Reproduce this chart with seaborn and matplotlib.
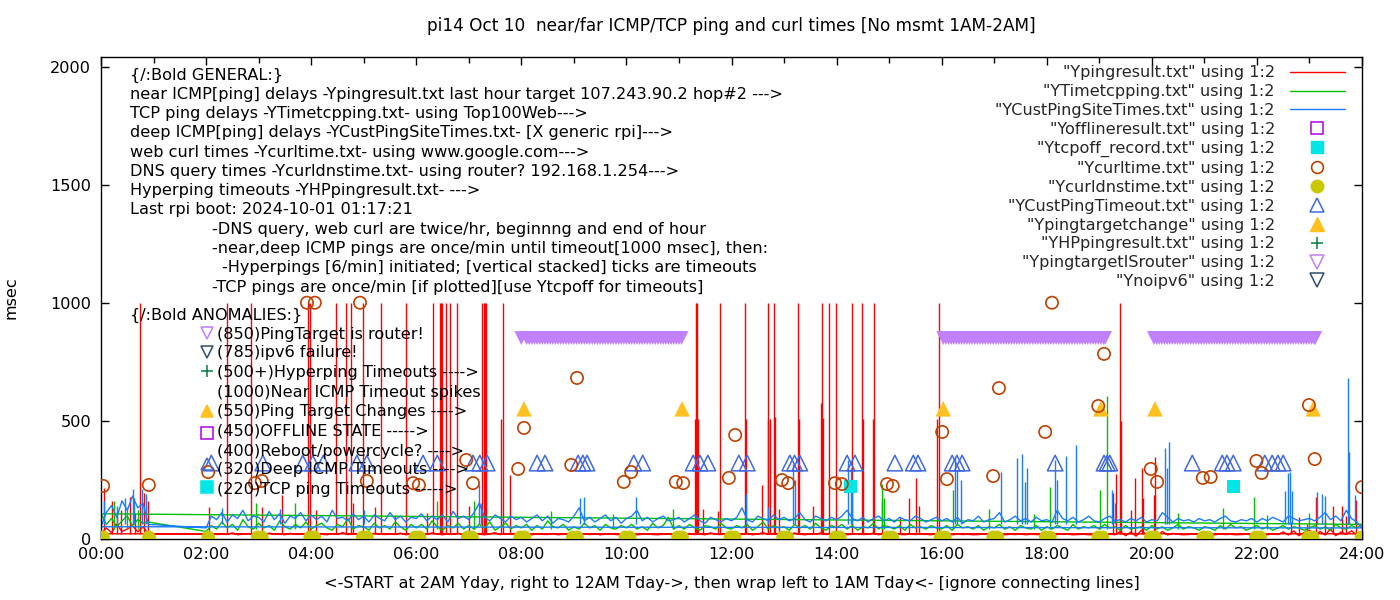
import numpy as np
import pandas as pd
import matplotlib.pyplot as plt
from matplotlib.lines import Line2D
from matplotlib.ticker import MultipleLocator, FuncFormatter
import seaborn as sns

sns.set_theme(style='ticks')
plt.rcParams['font.family'] = ['DejaVu Sans']
FS = 11.6

# ---------------- data (x = hours of day, y = msec) ----------------
# line series sampled every 6 min: 00:00-00:54 Tday piece, then 02:00 Yday -> 24:00
t_late = np.round(np.arange(0.0, 0.95, 0.1), 1)
t_main = np.round(np.arange(2.0, 24.05, 0.1), 1)

red_late = [20, 45, 25, 60, 30, 40, 55, 28, 50, 20]
red_main = [18, 22, 17, 20, 18, 24, 16, 19, 21, 18,
            20, 17, 23, 18, 19, 16, 22, 18, 20, 17,
            19, 23, 18, 16, 21, 18, 25, 17, 19, 20,
            18, 16, 22, 19, 17, 20, 18, 23, 16, 19,
            21, 18, 17, 24, 19, 16, 20, 18, 22, 17,
            19, 22, 18, 16, 20, 25, 17, 19, 18, 21,
            17, 19, 16, 20, 18, 17, 21, 16, 18, 19,
            18, 16, 19, 17, 20, 16, 18, 19, 17, 16,
            19, 17, 16, 18, 20, 17, 16, 19, 18, 17,
            16, 22, 18, 17, 19, 16, 24, 18, 17, 19,
            18, 20, 17, 22, 16, 19, 25, 18, 21, 17,
            19, 17, 23, 18, 16, 20, 18, 24, 17, 19,
            18, 22, 16, 19, 21, 17, 18, 23, 16, 20,
            17, 19, 18, 16, 20, 17, 19, 18, 16, 21,
            18, 17, 16, 19, 17, 18, 16, 17, 19, 18,
            17, 18, 16, 18, 17, 19, 16, 18, 17, 16,
            18, 16, 17, 19, 18, 16, 17, 18, 16, 17,
            18, 17, 19, 16, 30, 12, 28, 10, 35, 14,
            25, 12, 30, 15, 22, 18, 16, 17, 19, 18,
            17, 18, 16, 19, 17, 18, 16, 17, 18, 16,
            18, 17, 16, 19, 17, 28, 15, 32, 12, 26,
            35, 10, 30, 15, 40, 12, 28, 18, 33, 14,
            20]

green_late = [105, 60, 85, 50, 75, 95, 55, 80, 65, 70]
green_main = [30, 55, 40, 70, 45, 60, 35, 80, 50, 40,
              65, 45, 55, 35, 75, 50, 40, 60, 45, 70,
              40, 55, 65, 45, 35, 60, 50, 85, 40, 55,
              50, 35, 65, 45, 55, 40, 70, 50, 35, 60,
              45, 60, 40, 75, 50, 35, 55, 45, 65, 40,
              55, 40, 60, 45, 70, 35, 50, 65, 40, 55,
              45, 60, 35, 55, 40, 75, 50, 45, 60, 35,
              50, 40, 65, 45, 55, 35, 60, 45, 40, 55,
              45, 60, 40, 50, 35, 65, 45, 55, 90, 40,
              55, 40, 60, 45, 35, 55, 50, 40, 65, 45,
              40, 55, 45, 60, 35, 50, 70, 40, 55, 45,
              50, 35, 60, 45, 55, 40, 65, 45, 35, 55,
              45, 60, 40, 55, 35, 50, 45, 65, 40, 55,
              50, 40, 55, 35, 60, 45, 50, 40, 55, 45,
              40, 55, 35, 60, 45, 50, 40, 55, 35, 50,
              45, 60, 40, 50, 35, 55, 45, 40, 55, 35,
              50, 40, 55, 45, 35, 60, 40, 50, 45, 55,
              40, 60, 45, 50, 35, 55, 40, 45, 50, 35,
              55, 40, 50, 35, 45, 60, 40, 50, 45, 35,
              50, 45, 35, 55, 40, 60, 45, 50, 35, 45,
              55, 40, 50, 35, 45, 55, 40, 50, 45, 35,
              45, 55, 40, 50, 35, 60, 45, 40, 55, 45,
              60]

blue_late = [50, 110, 140, 90, 160, 120, 180, 130, 150, 60]
blue_main = [45, 95, 80, 110, 70, 100, 85, 120, 75, 95,
             90, 70, 115, 80, 105, 65, 95, 85, 110, 75,
             100, 80, 95, 70, 120, 85, 90, 75, 105, 80,
             95, 70, 100, 85, 75, 110, 80, 95, 70, 90,
             85, 105, 75, 95, 80, 100, 70, 115, 85, 95,
             80, 110, 150, 90, 75, 100, 85, 70, 95, 80,
             90, 70, 85, 100, 75, 95, 65, 85, 80, 70,
             95, 130, 75, 90, 70, 85, 100, 75, 90, 65,
             85, 95, 120, 75, 90, 70, 85, 95, 75, 80,
             90, 70, 85, 100, 75, 65, 90, 80, 70, 85,
             75, 90, 130, 80, 70, 95, 85, 75, 100, 80,
             90, 75, 85, 110, 80, 70, 95, 85, 75, 90,
             80, 95, 120, 85, 75, 90, 70, 85, 95, 75,
             85, 70, 90, 80, 75, 95, 85, 70, 80, 90,
             75, 85, 70, 90, 65, 80, 75, 95, 70, 80,
             85, 110, 70, 80, 95, 75, 85, 70, 90, 75,
             80, 70, 120, 85, 75, 90, 70, 80, 95, 75,
             70, 85, 95, 75, 80, 70, 85, 75, 90, 70,
             80, 75, 110, 90, 70, 85, 75, 80, 70, 85,
             75, 80, 70, 85, 95, 75, 70, 80, 75, 85,
             70, 85, 75, 90, 80, 70, 95, 85, 75, 80,
             85, 75, 90, 110, 80, 95, 75, 120, 85, 70,
             45]

# one-minute spikes (time, peak msec)
red_spike_t = [0.74, 2.40, 2.85, 3.94, 3.97, 4.47, 4.66, 4.75, 4.98, 5.33, 5.80,
               6.31, 6.45, 6.47, 6.49, 6.56, 6.64, 6.77, 7.26, 7.28, 7.30, 7.32, 7.65,
               11.32, 11.35, 11.79, 12.25, 12.70, 12.80, 13.26, 13.73, 13.85, 13.98,
               14.30, 14.49, 14.72, 15.94, 19.40,
               0.05, 0.20, 0.30, 0.38, 0.55, 0.65, 0.82, 0.90,
               2.05, 3.07, 3.45, 4.10, 4.79, 5.22, 5.60, 6.20, 7.00, 7.62, 7.78,
               11.30, 11.37, 11.45, 11.75, 12.27, 12.59, 12.69, 12.74, 12.82, 12.91,
               13.28, 13.56, 13.71, 13.75, 14.51, 14.70, 14.87, 15.20, 15.37, 15.52,
               15.56, 15.92, 19.27, 19.31, 19.42, 19.60, 19.68, 19.82, 19.84, 20.04,
               20.06, 22.65, 22.80, 22.95, 23.12, 23.30, 23.45, 23.62, 23.70, 23.88]
red_spike_v = [1000] * 38 + [215, 160, 90, 120, 175, 110, 195, 160,
               135, 135, 185, 120, 150, 135, 100, 110, 140, 505, 270,
               505, 505, 127, 115, 505, 229, 505, 505, 514, 127,
               505, 140, 573, 510, 505, 505, 160, 90, 170, 255,
               140, 505, 195, 275, 500, 120, 255, 297, 170, 183,
               345, 70, 90, 60, 175, 80, 140, 140, 95, 165]

green_spike_t = [0.25, 0.50, 0.70, 2.95, 3.70, 6.40, 7.10, 8.56, 9.75, 10.88,
                 14.87, 14.90, 16.22, 16.90, 17.75, 18.07, 19.02, 19.15, 20.50,
                 21.36, 21.95, 22.20, 23.00]
green_spike_v = [160, 130, 120, 150, 150, 160, 160, 115, 106, 127,
                 233, 170, 204, 127, 106, 217, 204, 603, 110,
                 128, 175, 100, 110]

blue_spike_t = [0.05, 0.30, 0.45, 0.60, 0.62, 0.78, 0.85, 2.30, 3.40, 5.00,
                7.20, 7.23, 9.11, 9.19, 10.19, 12.27, 12.69, 13.18, 13.20,
                14.21, 14.27, 14.30, 16.26, 16.30, 16.36, 17.12, 17.44, 17.53,
                17.58, 17.63, 18.16, 18.20, 18.37, 18.56, 19.25, 19.30, 20.25,
                20.29, 20.33, 22.53, 22.60, 22.63, 22.67, 23.14, 23.24, 23.30,
                23.74, 23.76, 23.87]
blue_spike_v = [160, 140, 170, 212, 170, 208, 190, 130, 125, 120,
                225, 150, 170, 178, 174, 190, 132, 318, 250,
                331, 300, 200, 344, 290, 250, 282, 340, 357,
                240, 297, 331, 250, 348, 395, 204, 150, 382,
                300, 408, 200, 280, 282, 200, 196, 190, 180,
                680, 365, 183]

curl_t = [0.04, 0.91, 2.04, 2.93, 3.06, 3.92, 4.07, 4.93, 5.06, 5.94, 6.05, 6.95,
          7.08, 7.94, 8.05, 8.95, 9.06, 9.95, 10.09, 10.94, 11.08, 11.95, 12.07,
          12.96, 13.08, 13.97, 14.10, 14.96, 15.07, 16.01, 16.10, 16.98, 17.09,
          17.97, 18.10, 18.98, 19.09, 19.98, 20.10, 20.97, 21.12, 21.99, 22.09,
          22.99, 23.10, 24.00]
curl_v = [223, 227, 282, 235, 244, 1000, 1000, 1000, 244, 235, 227, 333,
          235, 295, 469, 312, 681, 240, 282, 240, 235, 257, 439,
          248, 235, 235, 231, 231, 223, 452, 252, 265, 638,
          452, 1000, 562, 783, 295, 240, 257, 261, 329, 278,
          566, 337, 218]

dns_t = [0.04, 0.91, 2.04, 2.98, 3.06, 3.98, 4.06, 4.98, 5.06, 5.98, 6.06,
         6.98, 7.06, 7.98, 8.06, 8.98, 9.06, 9.98, 10.06, 10.98, 11.06,
         11.98, 12.06, 12.98, 13.06, 13.98, 14.06, 14.98, 15.06, 15.98, 16.06,
         16.98, 17.06, 17.98, 18.06, 18.98, 19.06, 19.98, 20.06, 20.98, 21.06,
         21.98, 22.06, 22.98, 23.06, 23.99]
dns_v = [5] * 46

timeout_t = [2.10, 3.08, 3.84, 4.03, 4.23, 4.87, 5.06, 6.13, 6.40, 7.08, 7.21,
             7.35, 8.30, 8.45, 9.08, 9.17, 9.25, 10.14, 10.31, 11.27, 11.40,
             11.55, 12.14, 12.30, 13.11, 13.20, 13.30, 14.20, 14.35, 15.11,
             15.46, 15.55, 16.20, 16.29, 16.39, 18.16, 19.09, 19.15, 19.20,
             20.77, 21.34, 21.43, 21.55, 22.15, 22.29, 22.40, 22.50]
timeout_v = [320] * 47

target_t = [8.05, 11.06, 16.03, 19.03, 20.06, 23.07]
target_v = [550] * 6

tcpoff_t = [14.26, 21.55]
tcpoff_v = [220, 220]

router_t = [8.00, 8.10, 8.15, 8.20, 8.25, 8.30, 8.35, 8.40, 8.45, 8.50, 8.55,
            8.60, 8.65, 8.70, 8.75, 8.80, 8.85, 8.90, 8.95, 9.00, 9.05, 9.10,
            9.15, 9.20, 9.25, 9.30, 9.35, 9.40, 9.45, 9.50, 9.55, 9.60, 9.65,
            9.70, 9.75, 9.80, 9.85, 9.90, 9.95, 10.00, 10.05, 10.10, 10.15,
            10.20, 10.25, 10.30, 10.35, 10.40, 10.45, 10.50, 10.55, 10.60,
            10.65, 10.70, 10.75, 10.80, 10.85, 10.90, 10.95, 11.00, 11.05,
            16.03, 16.08, 16.13, 16.18, 16.23, 16.28, 16.33, 16.38, 16.43,
            16.48, 16.53, 16.58, 16.63, 16.68, 16.73, 16.78, 16.83, 16.88,
            16.93, 16.98, 17.03, 17.08, 17.13, 17.18, 17.23, 17.28, 17.33,
            17.38, 17.43, 17.48, 17.53, 17.58, 17.63, 17.68, 17.73, 17.78,
            17.83, 17.88, 17.93, 17.98, 18.03, 18.08, 18.13, 18.18, 18.23,
            18.28, 18.33, 18.38, 18.43, 18.48, 18.53, 18.58, 18.63, 18.68,
            18.73, 18.78, 18.83, 18.88, 18.93, 18.98, 19.03, 19.08, 19.11,
            20.04, 20.09, 20.14, 20.19, 20.24, 20.29, 20.34, 20.39, 20.44,
            20.49, 20.54, 20.59, 20.64, 20.69, 20.74, 20.79, 20.84, 20.89,
            20.94, 20.99, 21.04, 21.09, 21.14, 21.19, 21.24, 21.29, 21.34,
            21.39, 21.44, 21.49, 21.54, 21.59, 21.64, 21.69, 21.74, 21.79,
            21.84, 21.89, 21.94, 21.99, 22.04, 22.09, 22.14, 22.19, 22.24,
            22.29, 22.34, 22.39, 22.44, 22.49, 22.54, 22.59, 22.64, 22.69,
            22.74, 22.79, 22.84, 22.89, 22.94, 22.99, 23.04, 23.09, 23.11]
router_v = [850] * len(router_t)

RED_BASE, GREEN_BASE, BLUE_BASE = 18, 40, 60

# ---------------- colours ----------------
RED, GREEN, BLUE = '#ff0000', '#00c000', '#1a7cff'
OFFLINE, TCPOFF, CURL, DNS = '#b000e8', '#00e6e6', '#c04000', '#c8c800'
TIMEOUT, TARGET, HP, ROUTER, NOIPV6 = '#4169e1', '#ffc020', '#008040', '#c080ff', '#2f4f6f'


def loop(late, main):
    # gnuplot connects the points in file order: 00:00 piece, then 02:00..24:00, wrap back
    t = np.concatenate([t_late, t_main, t_late[:1]])
    v = np.concatenate([late, main, late[:1]])
    return pd.DataFrame({'t': t, 'v': v})


fig = plt.figure(figsize=(14, 6), dpi=100)
ax = fig.add_axes([101 / 1400, 1 - 539 / 600, 1261 / 1400, 482 / 600])

for df_, spikes, base, col, z in [
        (loop(red_late, red_main), (red_spike_t, red_spike_v), RED_BASE, RED, 2.0),
        (loop(green_late, green_main), (green_spike_t, green_spike_v), GREEN_BASE, GREEN, 2.1),
        (loop(blue_late, blue_main), (blue_spike_t, blue_spike_v), BLUE_BASE, BLUE, 2.2)]:
    sns.lineplot(data=df_, x='t', y='v', sort=False, estimator=None, color=col,
                 linewidth=1.0, ax=ax, zorder=z, legend=False)
    ax.vlines(spikes[0], base, spikes[1], color=col, linewidth=1.0, zorder=z)

sns.scatterplot(x=router_t, y=router_v, marker='v', s=100, color=ROUTER, edgecolor='none',
                linewidth=0, ax=ax, zorder=3, legend=False)
sns.scatterplot(x=dns_t, y=dns_v, marker='o', s=95, color=DNS, edgecolor='none',
                linewidth=0, ax=ax, zorder=3, legend=False)
sns.scatterplot(x=curl_t, y=curl_v, marker='o', s=78, facecolor='none', edgecolor=CURL,
                linewidth=1.2, ax=ax, zorder=3.2, legend=False)
sns.scatterplot(x=timeout_t, y=timeout_v, marker='^', s=125, facecolor='none', edgecolor=TIMEOUT,
                linewidth=1.1, ax=ax, zorder=3.1, legend=False)
sns.scatterplot(x=target_t, y=target_v, marker='^', s=125, color=TARGET, edgecolor='none',
                linewidth=0, ax=ax, zorder=3, legend=False)
sns.scatterplot(x=tcpoff_t, y=tcpoff_v, marker='s', s=90, color=TCPOFF, edgecolor='none',
                linewidth=0, ax=ax, zorder=3, legend=False)

# ---------------- axes ----------------
ax.set_xlim(0, 24)
ax.set_ylim(-2, 2042)
ax.xaxis.set_major_locator(MultipleLocator(2))
ax.xaxis.set_minor_locator(MultipleLocator(1))
ax.xaxis.set_major_formatter(FuncFormatter(lambda v, p: f'{int(round(v)):02d}:00'))
ax.yaxis.set_major_locator(MultipleLocator(500))
ax.tick_params(which='both', direction='in', top=True, right=True, colors='black',
               labelsize=FS, width=1)
ax.tick_params(which='major', length=6)
ax.tick_params(which='minor', length=4)
ax.tick_params(axis='x', pad=5.5)
ax.tick_params(axis='y', pad=7)
for sp in ax.spines.values():
    sp.set_visible(True)
    sp.set_color('black')
    sp.set_linewidth(1)
ax.set_xlabel('<-START at 2AM Yday, right to 12AM Tday->, then wrap left to 1AM Tday<- '
              '[ignore connecting lines]', fontsize=FS, labelpad=10, color='black')
ax.set_ylabel('msec', fontsize=FS, labelpad=23, color='black')
ax.set_title('pi14 Oct 10  near/far ICMP/TCP ping and curl times [No msmt 1AM-2AM]',
             fontsize=12.2, pad=19, color='black')

# ---------------- notes ----------------
general_notes = [
    (0.55, 1966, '{/:Bold GENERAL:}'),
    (0.55, 1884, 'near ICMP[ping] delays -Ypingresult.txt last hour target 107.243.90.2 hop#2 --->'),
    (0.55, 1802, 'TCP ping delays -YTimetcpping.txt- using Top100Web--->'),
    (0.55, 1720, 'deep ICMP[ping] delays -YCustPingSiteTimes.txt- [X generic rpi]--->'),
    (0.55, 1639, 'web curl times -Ycurltime.txt- using www.google.com--->'),
    (0.55, 1557, 'DNS query times -Ycurldnstime.txt- using router? 192.168.1.254--->'),
    (0.55, 1475, 'Hyperping timeouts -YHPpingresult.txt- --->'),
    (0.55, 1394, 'Last rpi boot: 2024-10-01 01:17:21'),
    (2.11, 1312, '-DNS query, web curl are twice/hr, beginnng and end of hour'),
    (2.11, 1230, '-near,deep ICMP pings are once/min until timeout[1000 msec], then:'),
    (2.30, 1148, '-Hyperpings [6/min] initiated; [vertical stacked] ticks are timeouts'),
    (2.11, 1066, '-TCP pings are once/min [if plotted][use Ytcpoff for timeouts]'),
    (0.55, 948, '{/:Bold ANOMALIES:}'),
]
for x, y, s in general_notes:
    ax.text(x, y, s, ha='left', va='center', fontsize=FS, color='black', zorder=5)

# (text y, text, marker y, marker, face, edge)
anomaly_notes = [
    (867, '(850)PingTarget is router!', 870, 'v', 'none', ROUTER),
    (787, '(785)ipv6 failure!', 790, 'v', 'none', NOIPV6),
    (706, '(500+)Hyperping Timeouts ---->', 712, '+', HP, HP),
    (621, '(1000)Near ICMP Timeout spikes', None, None, None, None),
    (537, '(550)Ping Target Changes ---->', 540, '^', TARGET, TARGET),
    (456, '(450)OFFLINE STATE ----->', 447, 's', 'none', OFFLINE),
    (371, '(400)Reboot/powercycle? ---->', None, None, None, None),
    (291, '(320)Deep ICMP Timeouts ---->', 315, '^', 'none', TIMEOUT),
    (210, '(220)TCP ping Timeouts ----->', 218, 's', TCPOFF, TCPOFF),
]
for ty, s, my, m, fc, ec in anomaly_notes:
    ax.text(2.21, ty, s, ha='left', va='center', fontsize=FS, color='black', zorder=5)
    if m is not None:
        ax.plot([2.02], [my], linestyle='none', marker=m, markersize=9, markerfacecolor=fc,
                markeredgecolor=ec, markeredgewidth=1.1, zorder=5)

# ---------------- key ----------------
handles = [
    Line2D([], [], color=RED, lw=1),
    Line2D([], [], color=GREEN, lw=1),
    Line2D([], [], color=BLUE, lw=1),
    Line2D([], [], ls='none', marker='s', ms=8.5, mfc='none', mec=OFFLINE, mew=1.1),
    Line2D([], [], ls='none', marker='s', ms=8.5, mfc=TCPOFF, mec=TCPOFF),
    Line2D([], [], ls='none', marker='o', ms=8.5, mfc='none', mec=CURL, mew=1.2),
    Line2D([], [], ls='none', marker='o', ms=9, mfc=DNS, mec=DNS),
    Line2D([], [], ls='none', marker='^', ms=10, mfc='none', mec=TIMEOUT, mew=1.1),
    Line2D([], [], ls='none', marker='^', ms=10, mfc=TARGET, mec=TARGET),
    Line2D([], [], ls='none', marker='+', ms=9, mec=HP, mew=1.1),
    Line2D([], [], ls='none', marker='v', ms=10, mfc='none', mec=ROUTER, mew=1.1),
    Line2D([], [], ls='none', marker='v', ms=10, mfc='none', mec=NOIPV6, mew=1.1),
]
labels = ['"Ypingresult.txt" using 1:2', '"YTimetcpping.txt" using 1:2',
          '"YCustPingSiteTimes.txt" using 1:2', '"Yofflineresult.txt" using 1:2',
          '"Ytcpoff_record.txt" using 1:2', '"Ycurltime.txt" using 1:2',
          '"Ycurldnstime.txt" using 1:2', '"YCustPingTimeout.txt" using 1:2',
          '"Ypingtargetchange" using 1:2', '"YHPpingresult.txt" using 1:2',
          '"YpingtargetISrouter" using 1:2', '"Ynoipv6" using 1:2']
ax.legend(handles, labels, loc='upper right', bbox_to_anchor=(0.9916, 0.996),
          borderaxespad=0, frameon=False, markerfirst=False, numpoints=1,
          handlelength=3.42, handletextpad=0.93, labelspacing=0.24, fontsize=FS)

fig.savefig('out.png', dpi=100)
